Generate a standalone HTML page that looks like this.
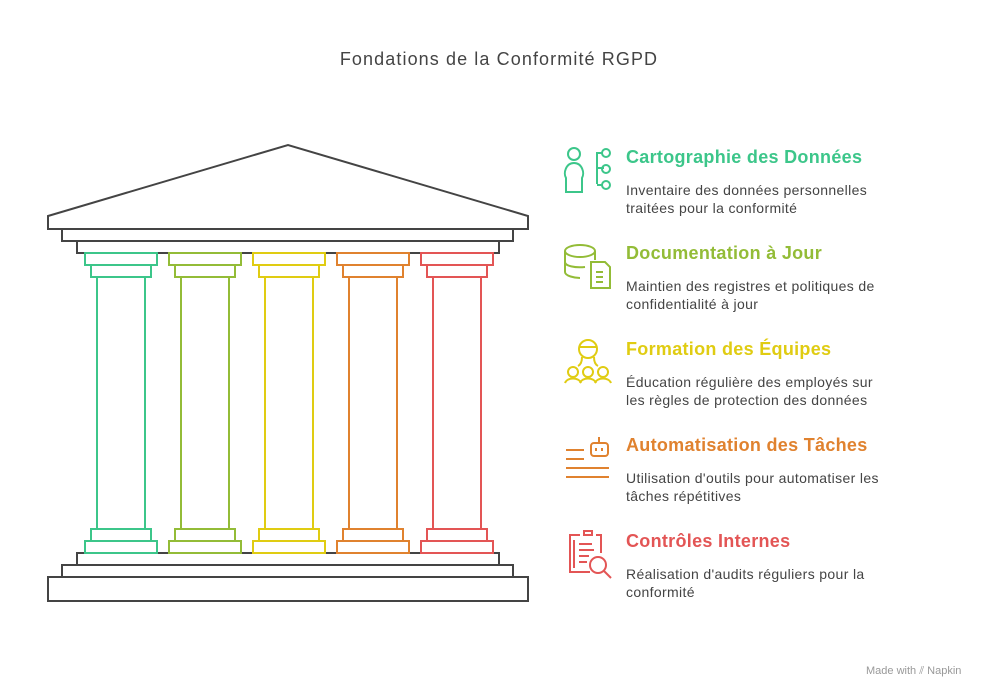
<!DOCTYPE html>
<html><head><meta charset="utf-8"><style>
body{margin:0;width:998px;height:699px;background:#fff;font-family:"Liberation Sans",sans-serif;overflow:hidden;position:relative}
.t{position:absolute;left:626px;font-size:18px;font-weight:bold;letter-spacing:0.3px}
.d{position:absolute;left:626px;font-size:14px;line-height:18px;color:#444;letter-spacing:0.35px}
</style></head><body>
<div style="position:absolute;top:49px;width:998px;text-align:center;font-size:18px;color:#444;letter-spacing:1.1px">Fondations de la Conformité RGPD</div>
<svg width="998" height="699" style="position:absolute;left:0;top:0" fill="none" stroke-width="2">
<g stroke="#444">
<polygon points="48,216 288,145 528,216 528,229 48,229" fill="#fff"/>
<rect x="62" y="229" width="451" height="12"/>
<rect x="77" y="241" width="422" height="12"/>
<rect x="77" y="553" width="422" height="12"/>
<rect x="62" y="565" width="451" height="12"/>
<rect x="48" y="577" width="480" height="24"/>
</g>
<g stroke="#3cc68a" fill="#fff"><rect x="85" y="253" width="72" height="12"/><rect x="91" y="265" width="60" height="12"/><line x1="97" y1="277" x2="97" y2="529"/><line x1="145" y1="277" x2="145" y2="529"/><rect x="91" y="529" width="60" height="12"/><rect x="85" y="541" width="72" height="12"/></g>
<g stroke="#93bc37" fill="#fff" transform="translate(84,0)"><rect x="85" y="253" width="72" height="12"/><rect x="91" y="265" width="60" height="12"/><line x1="97" y1="277" x2="97" y2="529"/><line x1="145" y1="277" x2="145" y2="529"/><rect x="91" y="529" width="60" height="12"/><rect x="85" y="541" width="72" height="12"/></g>
<g stroke="#e0cc12" fill="#fff" transform="translate(168,0)"><rect x="85" y="253" width="72" height="12"/><rect x="91" y="265" width="60" height="12"/><line x1="97" y1="277" x2="97" y2="529"/><line x1="145" y1="277" x2="145" y2="529"/><rect x="91" y="529" width="60" height="12"/><rect x="85" y="541" width="72" height="12"/></g>
<g stroke="#e0822f" fill="#fff" transform="translate(252,0)"><rect x="85" y="253" width="72" height="12"/><rect x="91" y="265" width="60" height="12"/><line x1="97" y1="277" x2="97" y2="529"/><line x1="145" y1="277" x2="145" y2="529"/><rect x="91" y="529" width="60" height="12"/><rect x="85" y="541" width="72" height="12"/></g>
<g stroke="#e35555" fill="#fff" transform="translate(336,0)"><rect x="85" y="253" width="72" height="12"/><rect x="91" y="265" width="60" height="12"/><line x1="97" y1="277" x2="97" y2="529"/><line x1="145" y1="277" x2="145" y2="529"/><rect x="91" y="529" width="60" height="12"/><rect x="85" y="541" width="72" height="12"/></g>
<g stroke="#3cc68a"><circle cx="574" cy="154" r="6"/><path d="M566,192 V178 c-3,-5 0,-15 8,-15 c8,0 11,10 8,15 V192 Z"/><path d="M597,152 V184 M597,168 H604"/><circle cx="606" cy="153" r="4"/><circle cx="606" cy="169" r="4"/><circle cx="606" cy="185" r="4"/><path d="M597,153 H602 M597,185 H602"/></g>
<g stroke="#93bc37"><ellipse cx="580" cy="251" rx="15" ry="6"/><path d="M565,251 V272 c0,4 10,6 15,6 M565,262 c0,4 10,6 20,5 M595,251 V260"/><path d="M591,262 H605 l5,5 V288 H591 Z M596,272 H603 M596,277 H603 M596,282 H603"/></g>
<g stroke="#e0cc12"><circle cx="588" cy="349" r="9"/><path d="M579,347 H597 M582,357 c0,6 -2,8 -4,9 M594,357 c0,6 2,8 4,9"/><circle cx="573" cy="372" r="5"/><circle cx="588" cy="372" r="5"/><circle cx="603" cy="372" r="5"/><path d="M565,383 c2,-6 14,-6 16,0 M580,383 c2,-6 14,-6 16,0 M595,383 c2,-6 14,-6 16,0"/></g>
<g stroke="#e0822f"><rect x="591" y="443" width="17" height="13" rx="3"/><path d="M599,437 V443 M596,448 V451 M602,448 V451 M566,450 H584 M566,459 H584 M566,468 H609 M566,477 H609"/></g>
<g stroke="#e35555"><path d="M580,535 H570 V572 H590 M584,531 H592 V535 H584 Z M596,535 H601 V553"/><path d="M574,540 V568 M579,544 H592 M579,550 H594 M579,556 H589 M579,562 H587"/><circle cx="598" cy="565" r="8"/><path d="M604,571 L611,578"/></g>
</svg>
<div class="t" style="top:147px;color:#3cc68a">Cartographie des Données</div>
<div class="d" style="top:181px">Inventaire des données personnelles<br>traitées pour la conformité</div>
<div class="t" style="top:243px;color:#93bc37">Documentation à Jour</div>
<div class="d" style="top:277px">Maintien des registres et politiques de<br>confidentialité à jour</div>
<div class="t" style="top:339px;color:#e0cc12">Formation des Équipes</div>
<div class="d" style="top:373px">Éducation régulière des employés sur<br>les règles de protection des données</div>
<div class="t" style="top:435px;color:#e0822f">Automatisation des Tâches</div>
<div class="d" style="top:469px">Utilisation d'outils pour automatiser les<br>tâches répétitives</div>
<div class="t" style="top:531px;color:#e35555">Contrôles Internes</div>
<div class="d" style="top:565px">Réalisation d'audits réguliers pour la<br>conformité</div>
<div style="position:absolute;left:866px;top:665px;font-size:11px;color:#999">Made with ⫽ Napkin</div>
</body></html>
